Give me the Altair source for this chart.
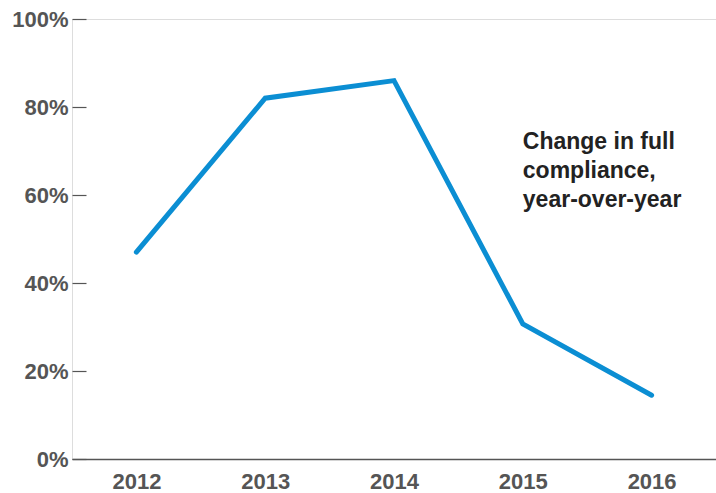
import altair as alt
import pandas as pd

years = ["2012", "2013", "2014", "2015", "2016"]
values = [47, 82, 86, 30.7, 14.5]
y_ticks = [0, 20, 40, 60, 80, 100]
note_lines = ["Change in full", "compliance,", "year-over-year"]
note_year = ["2015"]
note_value = [74.6]

df = pd.DataFrame({"year": years, "value": values})
note_df = pd.DataFrame({"year": note_year, "value": note_value, "text": [note_lines]})

x_enc = alt.X("year:O", scale=alt.Scale(type="point", padding=0.5),
              axis=alt.Axis(title=None, labelAngle=0, ticks=False, domainColor="#555555",
                            domainWidth=1.5, labelColor="#555555", labelFontSize=22,
                            labelFont="Liberation Sans", labelFontWeight="bold",
                            labelPadding=12, grid=False))
y_enc = alt.Y("value:Q", scale=alt.Scale(domain=[0, 100], nice=False),
              axis=alt.Axis(title=None, values=y_ticks, labelExpr="datum.value + '%'",
                            domain=False, grid=False, tickSize=14, tickColor="#555555",
                            tickWidth=1.2, offset=-14, labelPadding=4, labelColor="#555555",
                            labelFontSize=22, labelFont="Liberation Sans", labelFontWeight="bold",
                            labelBaseline="middle"))

line = alt.Chart(df).mark_line(color="#0b8ed3", strokeWidth=5, strokeCap="round",
                               strokeJoin="miter").encode(x=x_enc, y=y_enc)

note = alt.Chart(note_df).mark_text(align="left", baseline="top", fontSize=23,
                                    font="Liberation Sans", fontWeight="bold",
                                    color="#222222", lineHeight=29).encode(
    x=alt.X("year:O"), y=alt.Y("value:Q"), text="text")

chart = alt.layer(line, note).properties(
    width=644, height=440,
    autosize=alt.AutoSizeParams(type="none"),
    padding={"left": 72, "top": 19, "right": 0, "bottom": 34},
).configure_view(stroke=None).configure(background="white")

chart.save("out.html", embed_options={"renderer": "svg", "actions": False})
